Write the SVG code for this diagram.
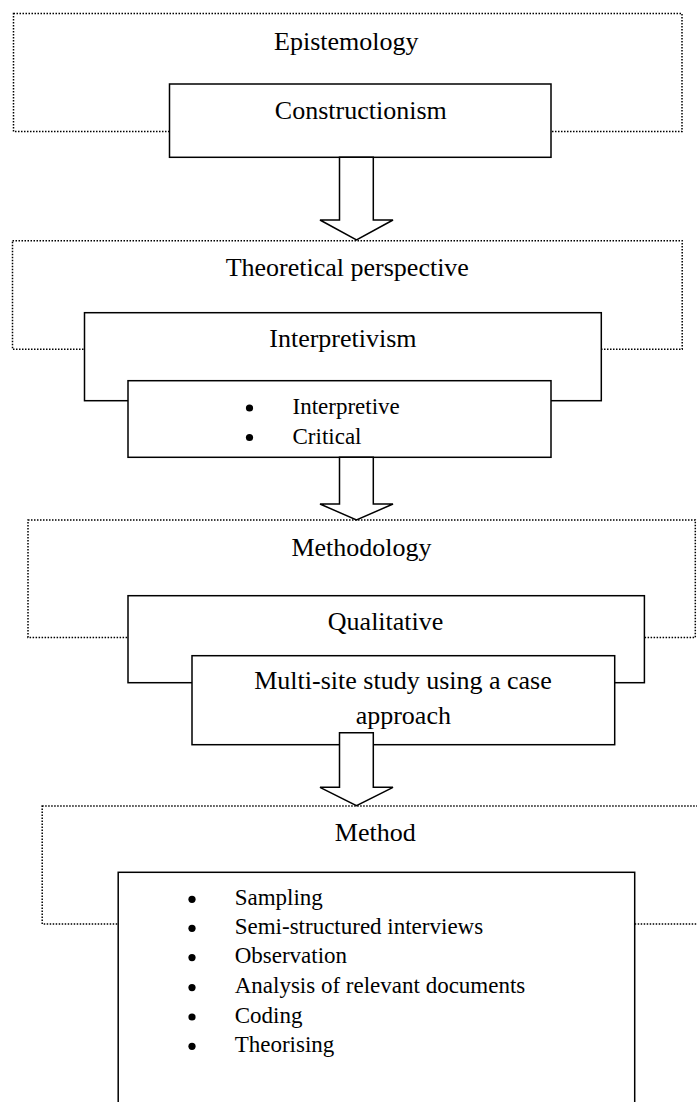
<svg xmlns="http://www.w3.org/2000/svg" width="697" height="1102" viewBox="0 0 697 1102">
  <style>
    .frame { fill: none; stroke: #000; stroke-width: 1.5; stroke-dasharray: 1.5 1.5; }
    .box { fill: #fff; stroke: #000; stroke-width: 1.5; }
    .arrow { fill: #fff; stroke: #000; stroke-width: 1.5; stroke-linejoin: miter; }
    .t { font-family: "Liberation Serif", "Times New Roman", serif; font-size: 26px; fill: #000; }
    .c { text-anchor: middle; }
    .li { font-family: "Liberation Serif", "Times New Roman", serif; font-size: 23px; fill: #000; }
    .dot { fill: #000; }
  </style>
  <rect width="697" height="1102" fill="#fff"/>

  <!-- Epistemology layer -->
  <g id="epistemology">
    <rect class="frame" x="13.5" y="13.5" width="668.5" height="118"/>
    <text class="t c" x="346.3" y="50">Epistemology</text>
  </g>
  <g id="constructionism">
    <rect class="box" x="169.5" y="84" width="381.5" height="73.3"/>
    <text class="t c" x="360.8" y="118.5">Constructionism</text>
  </g>

  <!-- Theoretical perspective layer -->
  <g id="theoretical-perspective">
    <rect class="frame" x="12.5" y="240.7" width="669.7" height="108.6"/>
    <text class="t c" x="347.3" y="275.7">Theoretical perspective</text>
  </g>
  <g id="interpretivism">
    <rect class="box" x="84.5" y="312.7" width="516.8" height="88"/>
    <text class="t c" x="342.9" y="347.3">Interpretivism</text>
  </g>
  <g id="interpretivism-types">
    <rect class="box" x="128" y="380.7" width="423" height="76.6"/>
    <circle class="dot" cx="249.5" cy="408" r="3.6"/>
    <text class="li" x="292.5" y="413.7">Interpretive</text>
    <circle class="dot" cx="249.5" cy="437.5" r="3.6"/>
    <text class="li" x="292.5" y="444">Critical</text>
  </g>

  <!-- Methodology layer -->
  <g id="methodology">
    <rect class="frame" x="28" y="520" width="667.3" height="117.5"/>
    <text class="t c" x="361.5" y="556">Methodology</text>
  </g>
  <g id="qualitative">
    <rect class="box" x="128" y="595.7" width="516.4" height="87"/>
    <text class="t c" x="385.6" y="630">Qualitative</text>
  </g>
  <g id="multi-site">
    <rect class="box" x="192" y="655.7" width="422.7" height="89"/>
    <text class="t c" x="403" y="689.3">Multi-site study using a case</text>
    <text class="t c" x="403.3" y="724">approach</text>
  </g>

  <!-- Method layer -->
  <g id="method">
    <rect class="frame" x="42.2" y="806" width="670" height="118"/>
    <text class="t c" x="375.3" y="841">Method</text>
  </g>
  <g id="method-steps">
    <rect class="box" x="118.2" y="872.3" width="516.5" height="250"/>
    <circle class="dot" cx="192" cy="899.3" r="3.6"/>
    <text class="li" x="234.7" y="905">Sampling</text>
    <circle class="dot" cx="192" cy="928.3" r="3.6"/>
    <text class="li" x="234.7" y="934">Semi-structured interviews</text>
    <circle class="dot" cx="192" cy="957.6" r="3.6"/>
    <text class="li" x="234.7" y="963.3">Observation</text>
    <circle class="dot" cx="192" cy="987.6" r="3.6"/>
    <text class="li" x="234.7" y="993.3">Analysis of relevant documents</text>
    <circle class="dot" cx="192" cy="1017" r="3.6"/>
    <text class="li" x="234.7" y="1022.7">Coding</text>
    <circle class="dot" cx="192" cy="1046.3" r="3.6"/>
    <text class="li" x="234.7" y="1052">Theorising</text>
  </g>

  <!-- Block arrows between layers -->
  <g id="connectors">
    <polygon class="arrow" points="339.5,157.3 339.5,220 320,220 356.5,240 393,220 373.3,220 373.3,157.3"/>
    <polygon class="arrow" points="339.5,457.3 339.5,504 320,504 356.5,520 393,504 373.3,504 373.3,457.3"/>
    <polygon class="arrow" points="339.5,732.7 339.5,787.3 320,787.3 356.5,805.7 393,787.3 373.3,787.3 373.3,732.7"/>
  </g>
</svg>
